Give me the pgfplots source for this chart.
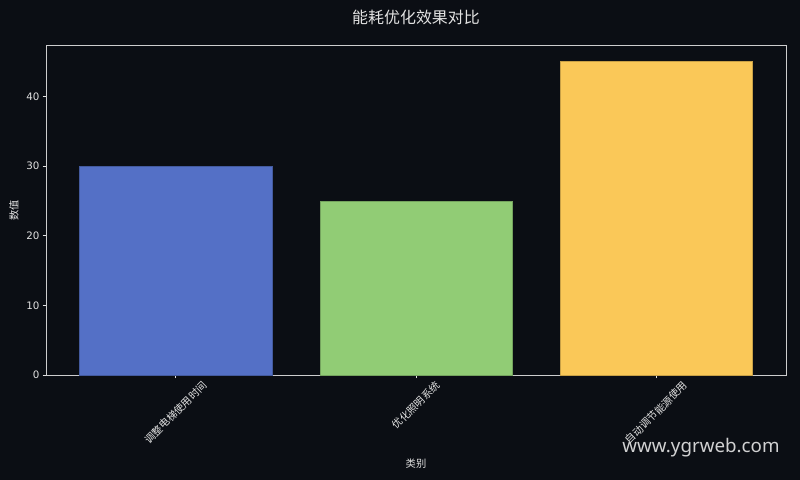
\documentclass[border=0pt]{standalone}
\usepackage{pgfplots}
\pgfplotsset{compat=1.18}
\usepackage{fontspec}
\setmainfont{DejaVu Sans}
\newfontfamily\cjk{Noto Sans CJK SC}
\newfontfamily\wm{Noto Sans}
\definecolor{bg}{HTML}{0B0E14}
\definecolor{fg}{HTML}{E2E2E2}
\definecolor{cA}{HTML}{5470C6}
\definecolor{cB}{HTML}{91CC75}
\definecolor{cC}{HTML}{FAC858}
\begin{document}
\begin{tikzpicture}[x=0.72pt,y=0.72pt]
\fill[bg] (-46,-105) rectangle (754,375);
\useasboundingbox (-46,-105) rectangle (754,375);
\begin{axis}[
  at={(0,0)}, anchor=south west,
  scale only axis,
  width=532.8pt, height=236.9pt,
  xmin=-0.54, xmax=2.54, ymin=0, ymax=47.25,
  xtick={0,1,2},
  xticklabels={\rotatebox{45}{\cjk 调整电梯使用时间},\rotatebox{45}{\cjk 优化照明系统},\rotatebox{45}{\cjk 自动调节能源使用}},
  xticklabel style={anchor=north, font=\fontsize{7.4pt}{8pt}\selectfont, text=fg, inner sep=1pt},
  ytick={0,10,20,30,40},
  yticklabel style={font=\fontsize{7.4pt}{8pt}\selectfont, text=fg, inner sep=2pt},
  /pgf/number format/assume math mode=true,
  tick align=outside,
  tick pos=left,
  major tick length=2.5pt,
  tick style={fg, line width=0.6pt},
  axis line style={fg!90!bg, line width=0.7pt},
  axis background/.style={fill=bg},
  xlabel={\cjk 类别}, ylabel={\cjk 数值},
  xlabel style={font=\fontsize{7.4pt}{8pt}\selectfont, text=fg, at={(0.5,0)}, yshift=-57pt},
  ylabel style={font=\fontsize{7.4pt}{8pt}\selectfont, text=fg},
  title={\cjk 能耗优化效果对比},
  title style={font=\fontsize{11.5pt}{13pt}\selectfont, text=fg, yshift=6pt},
  ybar, bar width=0.8, bar shift=0pt,
]
\addplot[fill=cA, draw=cA!80!black, line width=0.3pt] coordinates {(0,30)};
\addplot[fill=cB, draw=cB!80!black, line width=0.3pt] coordinates {(1,25)};
\addplot[fill=cC, draw=cC!80!black, line width=0.3pt] coordinates {(2,45)};
\end{axis}
\node[text=fg!92!bg, font=\wm\fontsize{13.5pt}{15pt}\selectfont, anchor=center] at (655,-73) {www.ygrweb.com};
\end{tikzpicture}
\end{document}
